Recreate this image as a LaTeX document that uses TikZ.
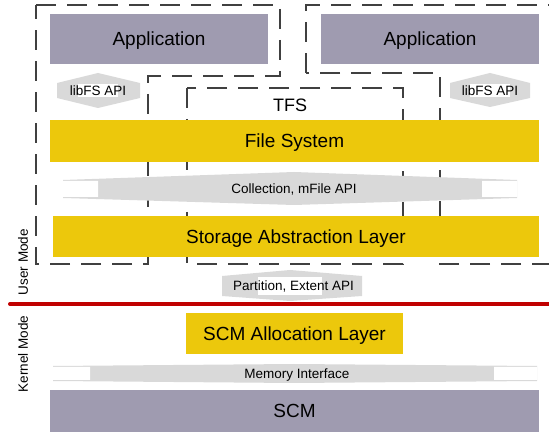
\documentclass[tikz,border=0pt]{standalone}
\usepackage{fontspec}
\setmainfont{Liberation Sans}
\usepackage{xcolor}
\usepackage{tikz}
\definecolor{appgray}{RGB}{159,155,176}
\definecolor{layeryellow}{RGB}{236,200,12}
\definecolor{apigray}{RGB}{217,217,217}
\definecolor{dashgray}{RGB}{64,64,64}
\definecolor{modered}{RGB}{192,0,0}
\def\bigfont{\fontsize{19}{22}\selectfont}
\def\smallfont{\fontsize{13.5}{16}\selectfont}
\tikzset{
  layer/.style={inner sep=0pt, font=\bigfont, text height=13.6pt, text depth=0pt},
  app/.style={layer, fill=appgray},
  fsl/.style={layer, fill=layeryellow},
  proc/.style={draw=dashgray, line width=2.6pt, dash pattern=on 20pt off 11pt},
  api/.style={fill=apigray},
  apitext/.style={inner sep=0pt, font=\smallfont, text height=9.7pt, text depth=0pt}
}

\begin{document}
\begin{tikzpicture}[x=1pt,y=-1pt]
  \useasboundingbox (0,0) rectangle (549,435);
  % process and TFS boundaries
  \draw[proc] (36,5) -- (280,5) -- (280,76) -- (148,76) -- (148,264) -- (36,264) -- cycle;
  \draw[proc] (306,73) -- (306,5) -- (560,5) -- (560,264) -- (440,264) -- (440,73) -- cycle;
  \draw[proc] (187,88) rectangle (403,264);
  \node[font=\fontsize{18}{20}\selectfont, inner sep=0pt] (tfs) at (290,105) {TFS};

  \node[app, minimum width=218pt, minimum height=50pt] (app1) at (159,39) {Application};
  \node[app, minimum width=218pt, minimum height=50pt] (app2) at (430,39) {Application};

  \fill[api] (98,73) -- (140,83) -- (140,98) -- (98,108) -- (57,98) -- (57,83) -- cycle;
  \fill[white] (78,84) rectangle (118,97);
  \node[apitext] (libfs1) at (98,90.5) {libFS API};
  \fill[api] (490,73) -- (530,83) -- (530,98) -- (490,107) -- (450,98) -- (450,83) -- cycle;
  \fill[white] (470,84) rectangle (510,97);
  \node[apitext] (libfs2) at (490,90.5) {libFS API};

  \node[fsl, minimum width=489pt, minimum height=42pt] (fs) at (294.5,141) {File System};

  \fill[api] (63,180) -- (294,172) -- (517,180) -- (517,198) -- (294,205) -- (63,198) -- cycle;
  \fill[white] (63,181) rectangle (98,197) (482,181) rectangle (517,197);
  \node[apitext] (mfile) at (294,188.5) {Collection, mFile API};

  \node[fsl, minimum width=486pt, minimum height=41pt] (sal) at (296,236.5) {Storage Abstraction Layer};

  \fill[api] (290,270) -- (362,276) -- (362,296) -- (290,301) -- (222,296) -- (222,276) -- cycle;
  \fill[white] (258,277) rectangle (322,295);
  \node[apitext] (extent) at (293.5,286) {Partition, Extent API};

  \draw[modered, line width=4pt, line cap=round] (10,304) -- (560,304);
  \node[rotate=90, font=\smallfont] (user) at (23,262) {User Mode};
  \node[rotate=90, font=\smallfont] (kernel) at (23,354) {Kernel Mode};

  \node[fsl, minimum width=217pt, minimum height=41pt] (alloc) at (294.5,333.5) {SCM Allocation Layer};

  \fill[api] (53,366) -- (294,364) -- (537,366) -- (537,381) -- (294,383) -- (53,381) -- cycle;
  \fill[white] (53,367) rectangle (90,380) (494,367) rectangle (537,380);
  \node[apitext] (memif) at (297,373.5) {Memory Interface};

  \node[app, minimum width=489pt, minimum height=42pt] (scm) at (294.5,411) {SCM};
\end{tikzpicture}
\end{document}
